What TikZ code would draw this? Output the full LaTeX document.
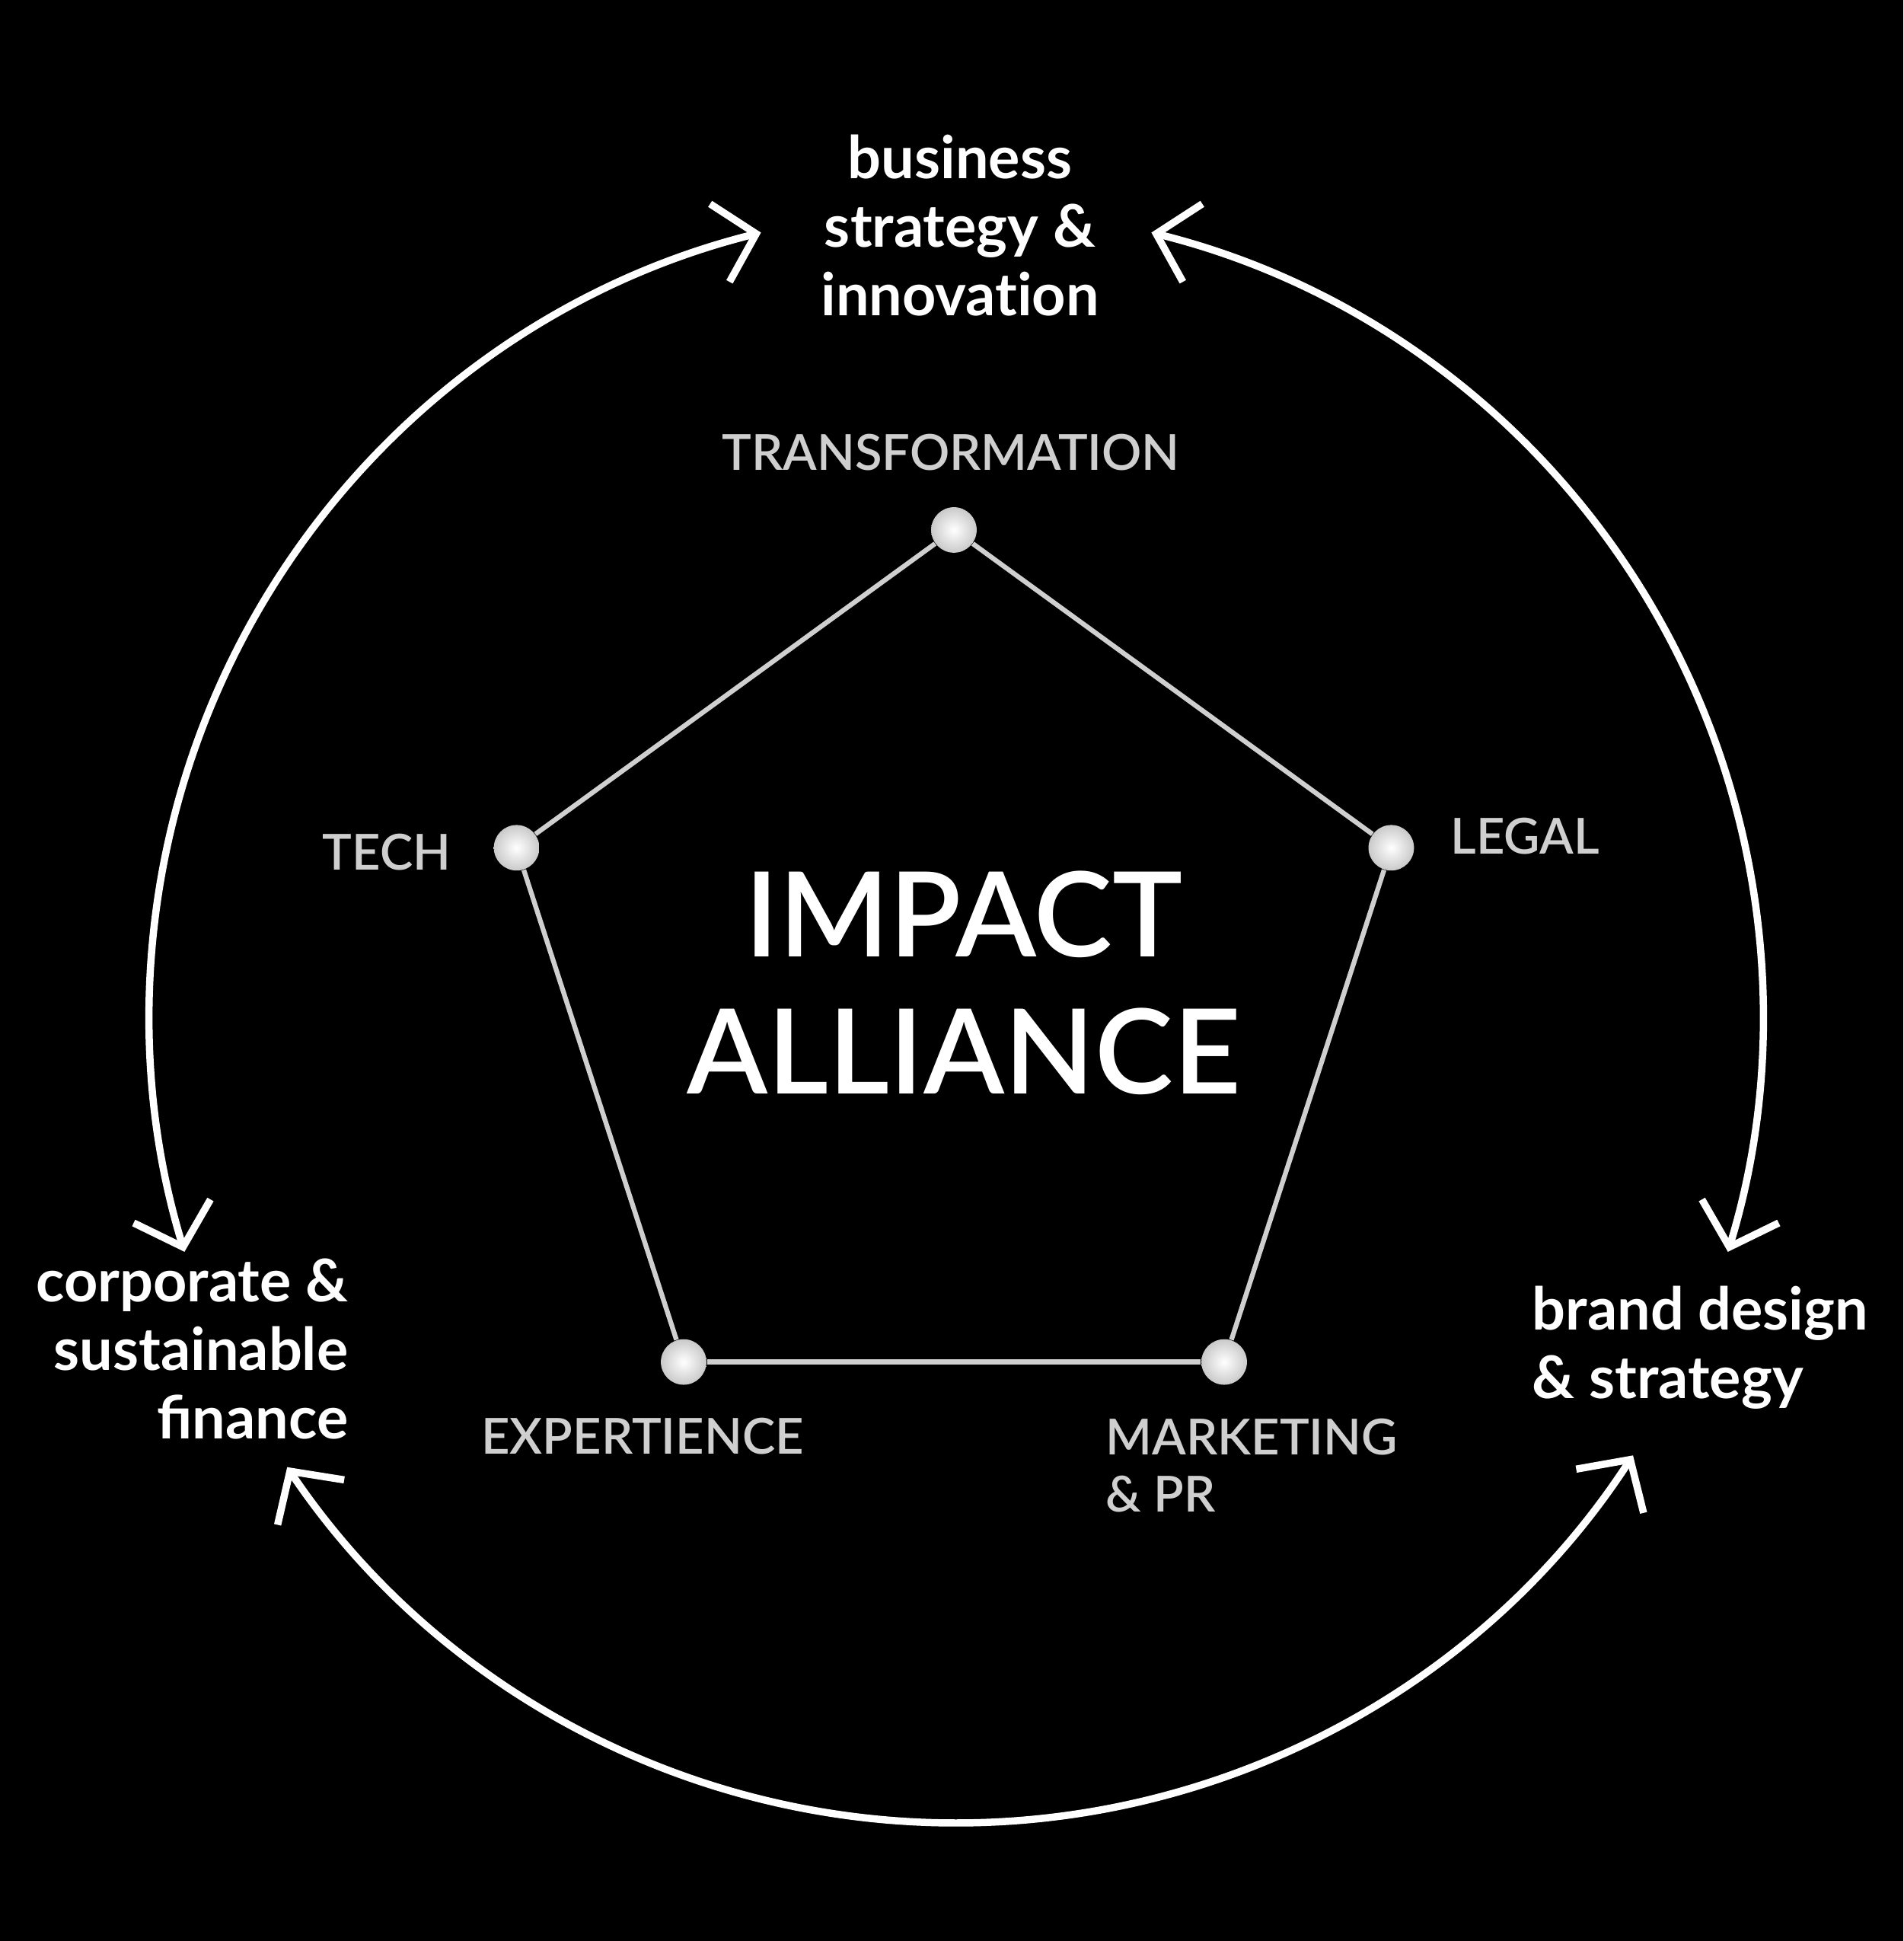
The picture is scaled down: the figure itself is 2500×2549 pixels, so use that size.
\documentclass[tikz,border=0pt]{standalone}
\usepackage{fontspec}
\setmainfont{Lato}
\newfontfamily\latosemi{Lato Semibold}
\usetikzlibrary{arrows.meta,positioning}
\definecolor{softgray}{gray}{0.81}

\begin{document}
\begin{tikzpicture}[x=0.01cm,y=0.01cm,
  ring/.style={draw=white,line width=2.7pt,
    {Straight Barb[length=14pt,width=30pt]}-{Straight Barb[length=14pt,width=30pt]}},
  pent line/.style={draw=softgray,line width=1.8pt},
  dot/.style={circle,minimum size=17pt,inner sep=0pt,shading=radial,
    inner color=white,outer color=gray!42},
  outer label/.style={text=white,inner sep=0pt,font=\bfseries\fontsize{22pt}{25.6pt}\selectfont},
  inner label/.style={text=softgray,inner sep=0pt,font=\latosemi\fontsize{18.5pt}{21.6pt}\selectfont},
  title node/.style={text=white,inner sep=0pt,align=center,font=\latosemi\fontsize{44pt}{51.2pt}\selectfont}]

  \fill[black] (0,0) rectangle (2500,2549);
  \useasboundingbox (0,0) rectangle (2500,2549);

  % outer ring
  \coordinate (cc) at (1256,1215);
  \coordinate (a1) at ([shift={(104:1060)}]cc);
  \coordinate (a2) at ([shift={(76:1060)}]cc);
  \coordinate (a3) at ([shift={(214:1060)}]cc);
  \draw[ring] (a1) arc[start angle=104,end angle=197,radius=1060];
  \draw[ring] (a2) arc[start angle=76,end angle=-17,radius=1060];
  \draw[ring] (a3) arc[start angle=214,end angle=327,radius=1060];

  % base anchor sits on the last line
  \node[outer label,align=center,anchor=base] (biz) at (1261,2134) {business\\strategy \&\\innovat\kern0pt ion};
  \node[outer label,align=right,anchor=base east] (fin) at (458,659) {corporate \&\\sustainable\\finance};
  \node[outer label,align=left,anchor=base west] (brand) at (2012,712) {brand design\\\& strategy};

  % pentagon
  \coordinate (pc) at (1253,1249);
  \foreach \n/\a in {trans/90,legal/18,mark/-54,expert/-126,tech/162}
    \node[dot] (\n) at ([shift={(\a:604)}]pc) {};

  \path[pent line]
    (trans) edge (legal)
    (legal) edge (mark)
    (mark) edge (expert)
    (expert) edge (tech)
    (tech) edge (trans);

  \node[inner label,anchor=base] (ltrans) at (1249,1931) {TRANSFORMATION};
  \node[inner label,anchor=base east] (ltech) at (593,1406) {TECH};
  \node[inner label,anchor=base west] (llegal) at (1905,1427) {LEGAL};
  \node[inner label,anchor=base] (lexpert) at (844,639) {EXPERTIENCE};
  \node[inner label,align=left,anchor=base west] (lmark) at (1452,563) {MARKETING\\\& PR};

  \node[title node,anchor=base] (title) at (1266,1112) {IMPACT\\ALLIANCE};

\end{tikzpicture}
\end{document}
